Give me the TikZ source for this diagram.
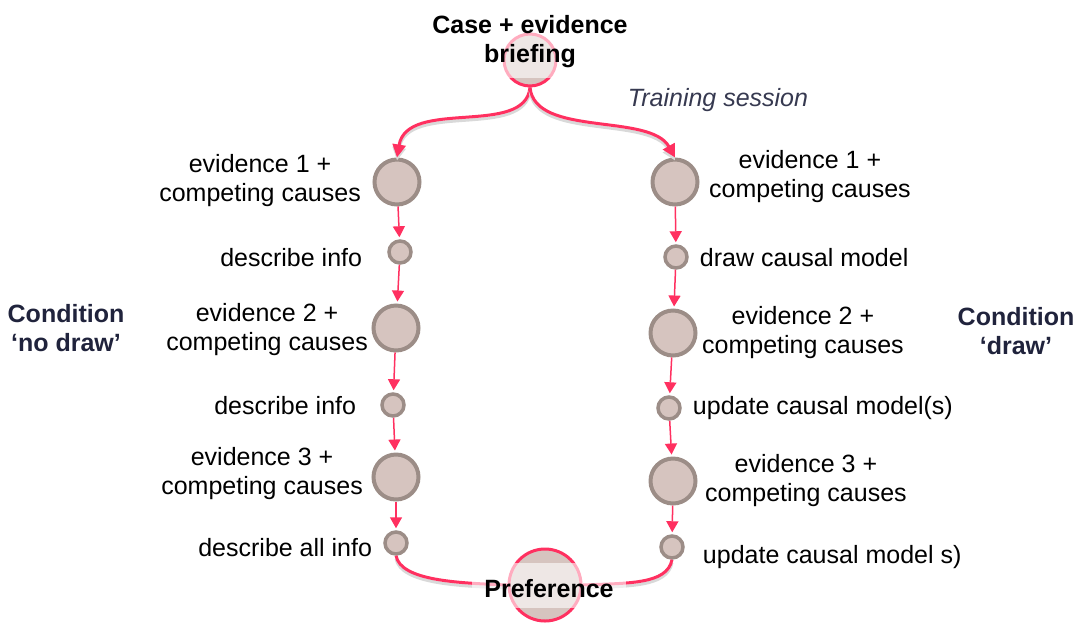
\documentclass[tikz,border=0pt]{standalone}
\usepackage{fontspec}
\setmainfont{Liberation Sans}
\usetikzlibrary{calc,arrows.meta,positioning}
\definecolor{flowred}{RGB}{255,48,96}
\definecolor{nodefill}{RGB}{214,196,191}
\definecolor{nodeline}{RGB}{156,141,135}
\definecolor{navy}{RGB}{32,35,60}

\begin{document}
\begin{tikzpicture}[x=1pt,y=-1pt,font=\fontsize{25}{29}\selectfont,
    big/.style={circle,draw=nodeline,fill=nodefill,line width=4pt,inner sep=0,minimum size=45pt},
    small/.style={circle,draw=nodeline,fill=nodefill,line width=3.5pt,inner sep=0,minimum size=22pt},
    lab/.style={align=center,inner sep=0},
    hub/.style={circle,draw=flowred,fill=nodefill,line width=3pt,inner sep=0},
    band/.style={fill=white,fill opacity=0.6,text opacity=1,align=center,font=\fontsize{25}{29}\selectfont\bfseries},
    flow/.style={draw=flowred,line width=1.5pt,-{Triangle[length=11pt,width=12pt]},shorten >=2pt},
    curve/.style={draw=flowred,line width=3pt,preaction={draw=black!15,line width=3pt,transform canvas={yshift=-3pt}}}]
    \useasboundingbox (0,0) rectangle (1075,622);

    % condition 'no draw'
    \node[big] (lb1) at (397,182) {};
    \node[small] (ls1) at (400,252) {};
    \node[big] (lb2) at (396,328) {};
    \node[small] (ls2) at (393,405) {};
    \node[big] (lb3) at (396,477) {};
    \node[small] (ls3) at (396,543) {};

    % condition 'draw'
    \node[big] (rb1) at (675,182) {};
    \node[small] (rs1) at (676,257) {};
    \node[big] (rb2) at (673,333) {};
    \node[small] (rs2) at (669,408) {};
    \node[big] (rb3) at (673,481) {};
    \node[small] (rs3) at (672,547) {};

    \node[lab,left=11.5pt of lb1,yshift=1.5pt] {evidence 1 +\\competing causes};
    \node[lab,left=25pt of ls1,yshift=-6pt] {describe info};
    \node[lab,left=3.5pt of lb2,yshift=-1.5pt] {evidence 2 +\\competing causes};
    \node[lab,left=24pt of ls2,yshift=-1pt] {describe info};
    \node[lab,left=8.5pt of lb3,yshift=3pt] {evidence 3 +\\competing causes};
    \node[lab,left=11pt of ls3,yshift=-5pt] {describe all info};

    \node[lab,right=9.5pt of rb1,yshift=5.5pt] {evidence 1 +\\competing causes};
    \node[lab,right=11pt of rs1,yshift=-1pt] {draw causal model};
    \node[lab,right=4.5pt of rb2] {evidence 2 +\\competing causes};
    \node[lab,right=11pt of rs2] {update causal model(s)};
    \node[lab,right=7.5pt of rb3] {evidence 3 +\\competing causes};
    \node[lab,right=18pt of rs3,yshift=-10.5pt] {update causal model s)};

    \draw[flow] (lb1) -- (ls1);
    \draw[flow] (ls1) -- (lb2);
    \draw[flow] (lb2) -- (ls2);
    \draw[flow] (ls2) -- (lb3);
    \draw[flow] (lb3) -- (ls3);
    \draw[flow] (rb1) -- (rs1);
    \draw[flow] (rs1) -- (rb2);
    \draw[flow] (rb2) -- (rs2);
    \draw[flow] (rs2) -- (rb3);
    \draw[flow] (rb3) -- (rs3);

    % briefing and preference
    \node[hub,minimum size=52pt] (brief) at (530,60) {};
    \node[hub,minimum size=72pt] (pref) at (545,585) {};

    \draw[curve,-{Triangle[length=13pt,width=13pt]}] (brief.south) .. controls +(-5,50) and +(10,-60) .. (lb1.north);
    \draw[curve,-{Triangle[length=13pt,width=13pt]}] (brief.south) .. controls +(5,50) and +(-25,-45) .. (rb1.north);
    \draw[curve] (ls3.south) .. controls +(5,25) and +(-50,-2) .. (pref.west);
    \draw[curve] (rs3.south) .. controls +(-5,25) and +(45,-2) .. (pref.east);

    \node[band,inner sep=10pt] (briefing) at (530,42) {Case + evidence\\briefing};
    \node[band,inner xsep=12pt,inner ysep=11pt,text height=23pt,text depth=0pt] (preference) at (549,585.5) {Preference};

    \node[font=\fontsize{25}{29}\selectfont\itshape,text=navy!90] (session) at (718,100) {Training session};
    \node[font=\fontsize{25}{29}\selectfont\bfseries,text=navy,align=center] (nodraw) at (66,328) {Condition\\‘no draw’};
    \node[font=\fontsize{25}{29}\selectfont\bfseries,text=navy,align=center] (draw) at (1016,331) {Condition\\‘draw’};
\end{tikzpicture}
\end{document}
